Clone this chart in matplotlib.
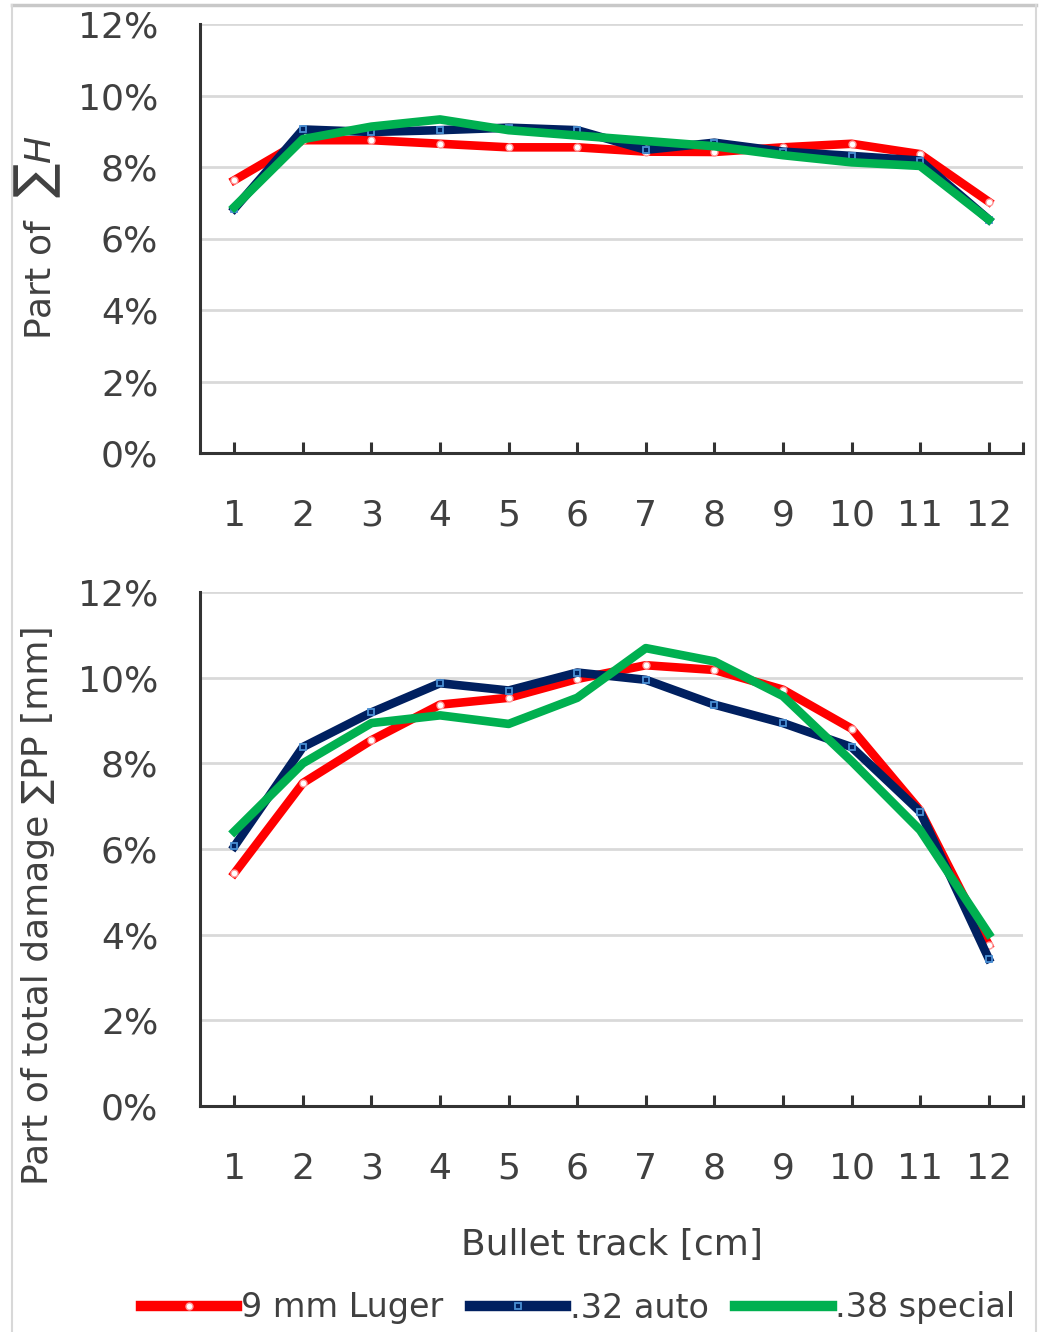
import matplotlib.pyplot as plt
import numpy as np
from matplotlib.ticker import PercentFormatter, FixedLocator
from matplotlib.lines import Line2D

# bullet track position [cm]
track = np.arange(1, 13)

# part of sum H [%]
h_luger = [7.63, 8.75, 8.75, 8.65, 8.55, 8.55, 8.43, 8.42, 8.55, 8.65, 8.36, 7.03]
h_auto = [6.83, 9.05, 8.98, 9.03, 9.10, 9.03, 8.48, 8.68, 8.43, 8.31, 8.18, 6.53]
h_special = [6.88, 8.78, 9.13, 9.33, 9.03, 8.88, 8.73, 8.58, 8.33, 8.13, 8.03, 6.53]

# part of total damage sum PP [%]
pp_luger = [5.43, 7.54, 8.54, 9.37, 9.53, 9.97, 10.29, 10.18, 9.72, 8.81, 6.90, 3.76]
pp_auto = [6.06, 8.38, 9.19, 9.87, 9.70, 10.12, 9.95, 9.37, 8.94, 8.38, 6.87, 3.44]
pp_special = [6.41, 8.00, 8.94, 9.12, 8.92, 9.53, 10.69, 10.38, 9.57, 8.05, 6.44, 4.02]

series_names = ['9 mm Luger', '.32 auto', '.38 special']
yticks = [0, 2, 4, 6, 8, 10, 12]

W, H = 1039, 1332
fig = plt.figure(figsize=(W / 100, H / 100), dpi=100)
txt_col = '#404040'


def px_axes(x0, y0, x1, y1):
    return fig.add_axes([x0 / W, 1 - y1 / H, (x1 - x0) / W, (y1 - y0) / H])


def style(ax, luger, auto, special):
    ax.plot(track, luger, color='#ff0000', lw=6.2, marker='o', ms=5,
            mfc='white', mec='#ff9999', mew=1, solid_joinstyle='round', label=series_names[0])
    ax.plot(track, auto, color='#002060', lw=6.2, marker='s', ms=5,
            mfc='#002060', mec='#4a8fd4', mew=1.3, solid_joinstyle='round', label=series_names[1])
    ax.plot(track, special, color='#00b050', lw=6.2, solid_joinstyle='round', label=series_names[2])
    ax.set_xlim(0.5, 12.5)
    ax.set_ylim(0, 12)
    ax.set_yticks(yticks)
    ax.yaxis.set_major_formatter(PercentFormatter(decimals=0))
    ax.set_xticks(track)
    ax.xaxis.set_minor_locator(FixedLocator([12.5]))
    ax.grid(axis='y', color='#d9d9d9', lw=2)
    ax.set_axisbelow(True)
    for s in ['top', 'right']:
        ax.spines[s].set_visible(False)
    for s in ['left', 'bottom']:
        ax.spines[s].set_color('#333333')
        ax.spines[s].set_linewidth(2.2)
    ax.tick_params(axis='y', length=0, pad=30, labelsize=26, labelcolor=txt_col)
    ax.tick_params(axis='x', which='both', direction='in', length=8, width=2.2,
                   color='#333333', pad=33, labelsize=26, labelcolor=txt_col)


ax1 = px_axes(200, 24, 1023, 453)
style(ax1, h_luger, h_auto, h_special)
ax2 = px_axes(200, 592, 1023, 1106)
style(ax2, pp_luger, pp_auto, pp_special)

fig.text(38 / W, 1 - 238 / H, 'Part of  ∑$H$', rotation=90, ha='center', va='center',
         fontsize=26, color=txt_col)
fig.text(38 / W, 1 - 905 / H, 'Part of total damage ∑PP [mm]', rotation=90, ha='center',
         va='center', fontsize=26, color=txt_col)
fig.text(612 / W, 1 - 1245 / H, 'Bullet track [cm]', ha='center', va='center',
         fontsize=26, color=txt_col)

handles, labels = ax2.get_legend_handles_labels()
leg = fig.legend(handles, labels, loc='center', bbox_to_anchor=(578 / W, 1 - 1308 / H),
                 ncol=3, frameon=False, handlelength=2.9, handletextpad=0.1,
                 columnspacing=0.8, fontsize=24, labelcolor=txt_col)
for ln in leg.get_lines():
    ln.set_linewidth(7.5)

# light frame around the chart area
fig.add_artist(Line2D([12 / W, 1036 / W], [1 - 5 / H, 1 - 5 / H], color='#c8c8c8', lw=2.5))
fig.add_artist(Line2D([12 / W, 12 / W], [0, 1 - 5 / H], color='#d8d8d8', lw=1.5))
fig.add_artist(Line2D([1036 / W, 1036 / W], [0, 1 - 5 / H], color='#d8d8d8', lw=1.5))

fig.savefig('out.png', dpi=100)
